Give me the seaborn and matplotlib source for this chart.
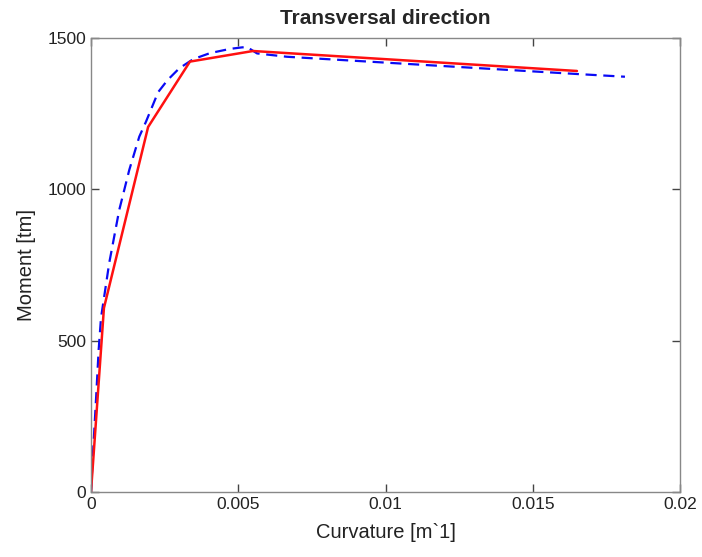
import numpy as np
import pandas as pd
import matplotlib
matplotlib.use("Agg")
import matplotlib.pyplot as plt
import seaborn as sns

# Bilinear (idealised) moment-curvature curve
curv_ideal = [0.0, 0.00044, 0.00194, 0.00336, 0.0055, 0.0165]
moment_ideal = [0, 608, 1206, 1422, 1457, 1391]

# Computed moment-curvature curve
curv_calc = [0.0, 0.000056, 0.00017, 0.00026, 0.00034, 0.00062, 0.00096, 0.0013,
             0.00164, 0.00187, 0.00228, 0.0026, 0.003, 0.00347, 0.00404, 0.00472,
             0.00513, 0.0053, 0.00564, 0.0061, 0.00665, 0.0165, 0.01813]
moment_calc = [0, 106, 304, 469, 575, 757, 932, 1064,
               1174, 1224, 1321, 1361, 1400, 1430, 1450, 1464,
               1469, 1470, 1449, 1444, 1438, 1381, 1372]

sns.set_style("ticks")
plt.rcParams['font.family'] = ['Liberation Sans', 'DejaVu Sans']
plt.rcParams['xtick.direction'] = 'in'
plt.rcParams['ytick.direction'] = 'in'
plt.rcParams['xtick.bottom'] = True
plt.rcParams['ytick.left'] = True
plt.rcParams['xtick.top'] = True
plt.rcParams['ytick.right'] = True

fig = plt.figure(figsize=(7.02, 5.57), dpi=100)
ax = fig.add_axes([0.1296, 0.1167, 0.8391, 0.8151])

df_calc = pd.DataFrame({'curv': curv_calc, 'moment': moment_calc})
df_ideal = pd.DataFrame({'curv': curv_ideal, 'moment': moment_ideal})

sns.lineplot(data=df_calc, x='curv', y='moment', sort=False, ax=ax,
             color='#0a0af5', linewidth=1.6, linestyle=(0, (5, 3)))
sns.lineplot(data=df_ideal, x='curv', y='moment', sort=False, ax=ax,
             color='#ff1010', linewidth=1.8)

ax.set_xlim(0, 0.02)
ax.set_ylim(0, 1500)
ax.set_xticks([0, 0.005, 0.01, 0.015, 0.02])
ax.set_xticklabels(['0', '0.005', '0.01', '0.015', '0.02'])
ax.set_yticks([0, 500, 1000, 1500])
ax.tick_params(axis='both', which='major', labelsize=12.5, labelcolor='#222222',
               color='#444444', length=6, width=1.0, direction='in',
               top=True, right=True, bottom=True, left=True)
for s in ax.spines.values():
    s.set_visible(True)
    s.set_color('#888888')
    s.set_linewidth(1.0)

ax.set_xlabel('Curvature [m`1]', fontsize=14.5, color='#222222', labelpad=8)
ax.set_ylabel('Moment [tm]', fontsize=14.5, color='#222222', labelpad=8)
ax.set_title('Transversal direction', fontsize=15, fontweight='bold', pad=10)

fig.savefig('out.png', dpi=100)
